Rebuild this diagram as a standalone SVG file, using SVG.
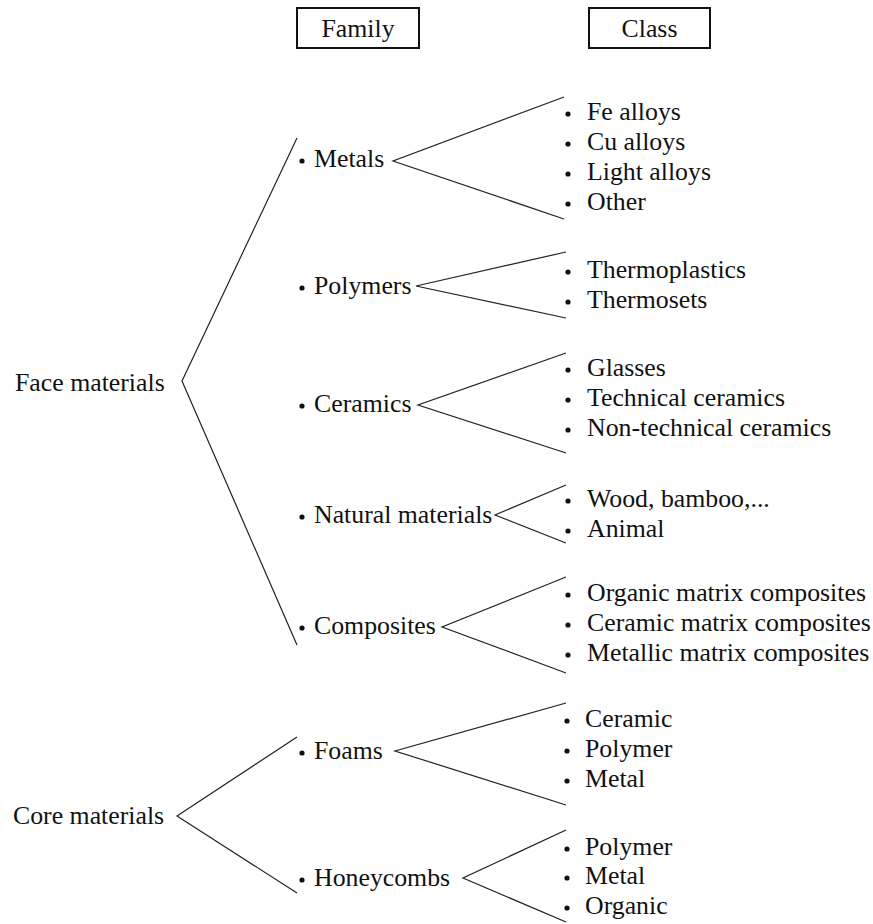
<svg xmlns="http://www.w3.org/2000/svg" width="873" height="924" viewBox="0 0 873 924">
<style>
text{font-family:"Liberation Serif","Times New Roman",serif;font-size:25.8px;fill:#111}
.ln{stroke:#222;stroke-width:1.2;fill:none}
.bx{stroke:#111;stroke-width:2;fill:#fff}
.b{fill:#111}
</style>
<defs><circle id="dot" r="2.6" class="b"/></defs>
<rect width="873" height="924" fill="#fff"/>
<g id="hdr-family"><rect class="bx" x="297" y="8" width="122" height="40"/><text x="358" y="37" text-anchor="middle">Family</text></g>
<g id="hdr-class"><rect class="bx" x="589" y="8" width="121" height="40"/><text x="649.5" y="37" text-anchor="middle">Class</text></g>
<g id="connectors">
<polyline class="ln" points="297,138 182,381 297,645"/>
<polyline class="ln" points="564,97 393,161 564,219"/>
<polyline class="ln" points="566,252 416,286 566,318"/>
<polyline class="ln" points="566,353 418,405 566,453"/>
<polyline class="ln" points="566,485 495,515 566,543"/>
<polyline class="ln" points="566,577 442,627 566,673"/>
<polyline class="ln" points="297,737 177,816 297,893"/>
<polyline class="ln" points="566,703 395,751 566,805"/>
<polyline class="ln" points="566,830 463,878 566,922"/>
</g>
<g id="face"><text x="15" y="391">Face materials</text></g>
<g id="core"><text x="13" y="824">Core materials</text></g>
<g id="metals"><use href="#dot" x="302" y="161"/><text x="314" y="167">Metals</text>
<use href="#dot" x="568" y="114"/><text x="587" y="120">Fe alloys</text>
<use href="#dot" x="568" y="144"/><text x="587" y="150">Cu alloys</text>
<use href="#dot" x="568" y="174"/><text x="587" y="180">Light alloys</text>
<use href="#dot" x="568" y="204"/><text x="587" y="210">Other</text></g>
<g id="polymers"><use href="#dot" x="302" y="288"/><text x="314" y="294">Polymers</text>
<use href="#dot" x="568" y="272"/><text x="587" y="278">Thermoplastics</text>
<use href="#dot" x="568" y="302"/><text x="587" y="308">Thermosets</text></g>
<g id="ceramics"><use href="#dot" x="302" y="406"/><text x="314" y="412">Ceramics</text>
<use href="#dot" x="568" y="370"/><text x="587" y="376">Glasses</text>
<use href="#dot" x="568" y="400"/><text x="587" y="406">Technical ceramics</text>
<use href="#dot" x="568" y="430"/><text x="587" y="436">Non-technical ceramics</text></g>
<g id="natural"><use href="#dot" x="302" y="517"/><text x="314" y="523">Natural materials</text>
<use href="#dot" x="568" y="501"/><text x="587" y="507">Wood, bamboo,...</text>
<use href="#dot" x="568" y="531"/><text x="587" y="537">Animal</text></g>
<g id="composites"><use href="#dot" x="302" y="628"/><text x="314" y="634">Composites</text>
<use href="#dot" x="568" y="595"/><text x="587" y="601">Organic matrix composites</text>
<use href="#dot" x="568" y="625"/><text x="587" y="631">Ceramic matrix composites</text>
<use href="#dot" x="568" y="655"/><text x="587" y="661">Metallic matrix composites</text></g>
<g id="foams"><use href="#dot" x="302" y="753"/><text x="314" y="759">Foams</text>
<use href="#dot" x="567" y="721"/><text x="585" y="727">Ceramic</text>
<use href="#dot" x="567" y="751"/><text x="585" y="757">Polymer</text>
<use href="#dot" x="567" y="781"/><text x="585" y="787">Metal</text></g>
<g id="honeycombs"><use href="#dot" x="302" y="880"/><text x="314" y="886">Honeycombs</text>
<use href="#dot" x="567" y="849"/><text x="585" y="855">Polymer</text>
<use href="#dot" x="567" y="878"/><text x="585" y="884">Metal</text>
<use href="#dot" x="567" y="908"/><text x="585" y="914">Organic</text></g>
</svg>
